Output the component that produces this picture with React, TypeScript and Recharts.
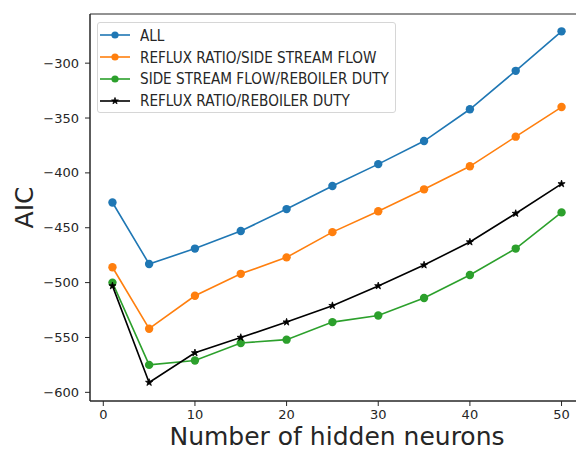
import React from "react";
import {
  LineChart,
  Line,
  XAxis,
  YAxis,
  Legend,
  ReferenceArea,
  Symbols,
} from "recharts";

// hidden neurons on the x axis
const neurons = [1, 5, 10, 15, 20, 25, 30, 35, 40, 45, 50];

// AIC per input combination
const allInputs = [-427, -483, -469, -453, -433, -412, -392, -371, -342, -307, -271];
const refluxSide = [-486, -542, -512, -492, -477, -454, -435, -415, -394, -367, -340];
const sideReboiler = [-500, -575, -571, -555, -552, -536, -530, -514, -493, -469, -436];
const refluxReboiler = [-503, -591, -564, -550, -536, -521, -503, -484, -463, -437, -410];

const xTicks = [0, 10, 20, 30, 40, 50];
const yTicks = [-600, -550, -500, -450, -400, -350, -300];

const X_DOMAIN: [number, number] = [-1.45, 52.45];
const Y_DOMAIN: [number, number] = [-607.9, -255.2];

const data = neurons.map((n, i) => ({
  n,
  all: allInputs[i],
  refluxSide: refluxSide[i],
  sideReboiler: sideReboiler[i],
  refluxReboiler: refluxReboiler[i],
}));

const FONT = "'DejaVu Sans', sans-serif";
const INK = "#262626";

const series = [
  { key: "all", name: "ALL", color: "#1f77b4", marker: "circle" },
  { key: "refluxSide", name: "REFLUX RATIO/SIDE STREAM FLOW", color: "#ff7f0e", marker: "circle" },
  { key: "sideReboiler", name: "SIDE STREAM FLOW/REBOILER DUTY", color: "#2ca02c", marker: "circle" },
  { key: "refluxReboiler", name: "REFLUX RATIO/REBOILER DUTY", color: "#000000", marker: "star" },
];

const minus = (v: number) => (v < 0 ? "\u2212" + Math.abs(v) : String(v));

const StarDot = (props: any) => {
  const { cx, cy, index } = props;
  if (cx == null || cy == null) return null;
  return <Symbols key={`s-${index}`} cx={cx} cy={cy} type="star" size={16} fill="#000" stroke="#000" strokeWidth={0.8} />;
};

const renderLegend = () => (
  <div
    style={{
      width: 299,
      height: 91,
      background: "rgba(255,255,255,0.85)",
      border: "1px solid #d6d6d6",
      borderRadius: 3,
      fontFamily: FONT,
      fontSize: 13.6,
      color: INK,
      boxSizing: "border-box",
      paddingTop: 1,
    }}
  >
    {series.map((s) => (
      <div key={s.key} style={{ display: "flex", alignItems: "center", height: 22 }}>
        <svg width={40} height={22} style={{ flex: "none" }}>
          <line x1={2} y1={11} x2={32} y2={11} stroke={s.color} strokeWidth={1.6} />
          {s.marker === "circle" ? (
            <circle cx={17} cy={11} r={3.6} fill={s.color} />
          ) : (
            <Symbols cx={17} cy={11} type="star" size={14} fill="#000" stroke="#000" strokeWidth={0.8} />
          )}
        </svg>
        <span style={{ marginLeft: 2, whiteSpace: "nowrap", display: "inline-block", transform: "scaleY(1.1)" }}>
          {s.name}
        </span>
      </div>
    ))}
  </div>
);

const App = () => {
  return (
    <div
      style={{
        position: "absolute",
        left: 0,
        top: 0,
        width: 576,
        height: 452,
        overflow: "hidden",
        background: "#fff",
      }}
    >
      <LineChart
        width={600}
        height={452}
        data={data}
        margin={{ top: 14, right: 16, bottom: 0, left: 0 }}
        style={{ fontFamily: FONT }}
      >
        <XAxis
          dataKey="n"
          type="number"
          domain={X_DOMAIN}
          ticks={xTicks}
          allowDataOverflow
          height={51}
          tickSize={5}
          tickMargin={4}
          stroke={INK}
          tick={{ fontSize: 13, fill: INK, fontFamily: FONT }}
          label={{
            value: "Number of hidden neurons",
            position: "insideBottom",
            offset: 7,
            fontSize: 25,
            fill: INK,
            fontFamily: FONT,
          }}
        />
        <YAxis
          type="number"
          domain={Y_DOMAIN}
          ticks={yTicks}
          allowDataOverflow
          width={90}
          tickSize={5}
          tickMargin={6}
          stroke={INK}
          tickFormatter={minus}
          tick={{ fontSize: 13, fill: INK, fontFamily: FONT }}
          label={(props: any) => {
            const vb = props.viewBox || { x: 0, y: 14, height: 387 };
            const cx = vb.x + 33;
            const cy = vb.y + vb.height / 2;
            return (
              <text
                x={cx}
                y={cy}
                transform={`rotate(-90, ${cx}, ${cy})`}
                textAnchor="middle"
                fontSize={25}
                fill={INK}
                fontFamily={FONT}
              >
                AIC
              </text>
            );
          }}
        />
        <ReferenceArea
          x1={X_DOMAIN[0]}
          x2={X_DOMAIN[1]}
          y1={Y_DOMAIN[0]}
          y2={Y_DOMAIN[1]}
          fill="none"
          stroke={INK}
          strokeWidth={1}
          ifOverflow="visible"
        />
        {series.map((s) =>
          s.marker === "circle" ? (
            <Line
              key={s.key}
              dataKey={s.key}
              name={s.name}
              type="linear"
              stroke={s.color}
              strokeWidth={1.6}
              dot={{ r: 4.2, fill: s.color, stroke: "none" }}
              activeDot={false}
              isAnimationActive={false}
            />
          ) : (
            <Line
              key={s.key}
              dataKey={s.key}
              name={s.name}
              type="linear"
              stroke={s.color}
              strokeWidth={1.6}
              dot={<StarDot />}
              activeDot={false}
              isAnimationActive={false}
            />
          )
        )}
        <Legend
          layout="vertical"
          align="center"
          verticalAlign="middle"
          content={renderLegend}
          wrapperStyle={{ position: "absolute", left: 97, top: 22, width: 299, height: 91 }}
        />
      </LineChart>
    </div>
  );
};

export default App;
